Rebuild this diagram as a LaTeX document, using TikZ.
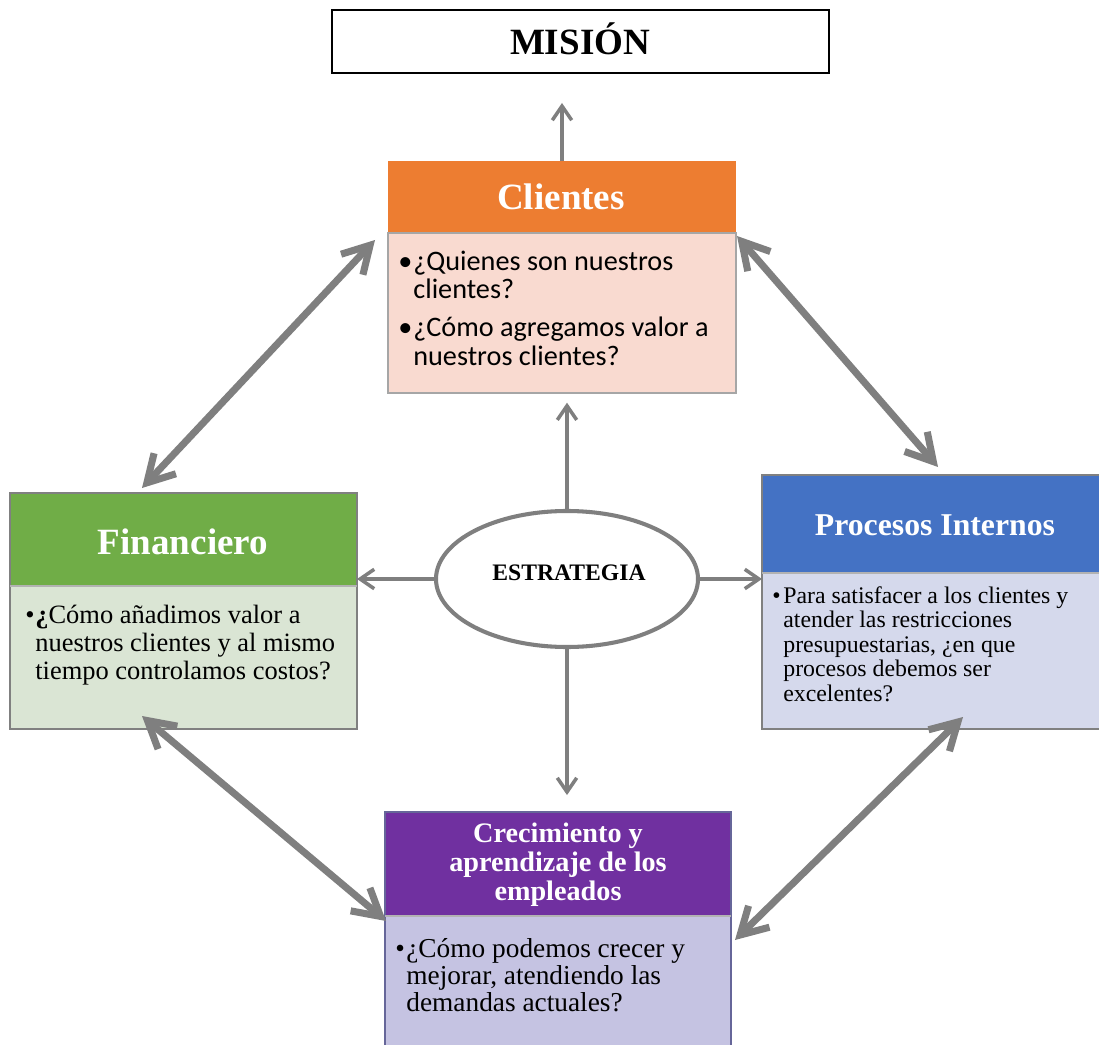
\documentclass[tikz,border=0pt]{standalone}
\usepackage{fontspec}
\setmainfont{Liberation Serif}
\newfontfamily\calibrifont{Carlito}
\usetikzlibrary{arrows.meta,shapes.geometric}

% one drawing unit
\newdimen\pxu
\pxu=0.5669pt

% colours
\definecolor{arrowgray}{HTML}{7F7F7F}
\definecolor{cliorange}{HTML}{ED7D31}
\definecolor{clibody}{HTML}{F9DAD0}
\definecolor{fingreen}{HTML}{70AD47}
\definecolor{finbody}{HTML}{DAE5D4}
\definecolor{problue}{HTML}{4472C4}
\definecolor{probody}{HTML}{D5D9EC}
\definecolor{crepurple}{HTML}{7030A0}
\definecolor{crebody}{HTML}{C5C3E2}

% bullet paragraph with hanging indent: #1 indent, #2 text
\newcommand{\bulpar}[2]{\par\hangindent=#1\hangafter=1\noindent\makebox[#1][l]{\textbullet}#2}

\begin{document}
\begin{tikzpicture}[x=\pxu, y=-\pxu,
  panel/.style={anchor=north west, inner sep=0pt, outer sep=0pt},
  title/.style={anchor=base, text=white, font=\bfseries\fontsize{21}{25}\selectfont},
  bodytext/.style={anchor=base west, inner sep=0pt},
  thinarrow/.style={draw=arrowgray, line width=2pt,
    -{Straight Barb[length=8pt,width=11pt]}},
  thickarrow/.style={draw=arrowgray, line width=4pt,
    {Straight Barb[length=15pt,width=17pt]}-{Straight Barb[length=15pt,width=17pt]}}
]
\useasboundingbox (0,0) rectangle (1099,1045);

% ---- Mision
\node[panel, draw=black, line width=1.2pt, minimum width=497*\pxu, minimum height=63*\pxu]
  (mis) at (332,10) {};
\node[anchor=base, font=\bfseries\fontsize{21}{25}\selectfont] (mist) at (580,55) {MISIÓN};

% ---- Clientes
\node[panel, fill=cliorange, minimum width=348*\pxu, minimum height=72*\pxu] (clh) at (388,161) {};
\node[panel, fill=clibody, draw=gray!70, line width=1.1pt, minimum width=348*\pxu, minimum height=160*\pxu]
  (clb) at (388,233) {};
\node[title] (clt) at (561,210) {Clientes};
\node[bodytext] (clq) at (398,270) {\parbox[t]{600\pxu}{\calibrifont\fontsize{16}{16.4}\selectfont
  \bulpar{15\pxu}{¿Quienes son nuestros\newline clientes?}\par\vspace{9\pxu}
  \bulpar{15\pxu}{¿Cómo agregamos valor a\newline nuestros clientes?}}};

% ---- Financiero
\node[panel, fill=fingreen, minimum width=347*\pxu, minimum height=93*\pxu] (finh) at (10,493) {};
\node[panel, fill=finbody, minimum width=347*\pxu, minimum height=143*\pxu] (finb) at (10,586) {};
\draw[gray, line width=1pt] (finh.north west) rectangle (finb.south east);
\draw[gray!60, line width=0.6pt] (finh.south west) -- (finh.south east);
\node[title] (fint) at (183,554) {Financiero};
\node[bodytext] (finq) at (25,623) {\parbox[t]{600\pxu}{\fontsize{15}{15.9}\selectfont
  \bulpar{10\pxu}{\textbf{¿}Cómo añadimos valor a\newline nuestros clientes y al mismo\newline tiempo controlamos costos?}}};

% ---- Procesos Internos
\node[panel, fill=problue, minimum width=340*\pxu, minimum height=98*\pxu] (prh) at (762,475) {};
\node[panel, fill=probody, minimum width=340*\pxu, minimum height=156*\pxu] (prb) at (762,573) {};
\draw[gray, line width=1pt] (prh.north west) rectangle (prb.south east);
\draw[gray!60, line width=0.6pt] (prh.south west) -- (prh.south east);
\node[title, font=\bfseries\fontsize{18}{22}\selectfont] (prt) at (935,535) {Procesos Internos};
\node[bodytext] (prq) at (772,603) {\parbox[t]{600\pxu}{\fontsize{13.5}{13.9}\selectfont
  \bulpar{11\pxu}{Para satisfacer a los clientes y\newline atender las restricciones\newline presupuestarias, ¿en que\newline procesos debemos ser\newline excelentes?}}};

% ---- Crecimiento y aprendizaje
\node[panel, fill=crepurple, minimum width=346*\pxu, minimum height=104*\pxu] (crh) at (385,812) {};
\node[panel, fill=crebody, minimum width=346*\pxu, minimum height=140*\pxu] (crb) at (385,916) {};
\draw[gray!80!blue, line width=1pt] (crh.north west) rectangle (crb.south east);
\draw[gray!60, line width=0.6pt] (crh.south west) -- (crh.south east);
\node[title, align=center, font=\bfseries\fontsize{16}{16.4}\selectfont] (crt) at (558,900)
  {Crecimiento y\\aprendizaje de los\\empleados};
\node[bodytext] (crq) at (395,957) {\parbox[t]{600\pxu}{\fontsize{15.5}{15.4}\selectfont
  \bulpar{11\pxu}{¿Cómo podemos crecer y\newline mejorar, atendiendo las\newline demandas actuales?}}};

% ---- Estrategia
\node[ellipse, draw=arrowgray, fill=white, line width=2.3pt, minimum width=262*\pxu,
  minimum height=136*\pxu, inner sep=0pt] (estr) at (567,579) {};
\node[anchor=base, font=\bfseries\fontsize{13.4}{16}\selectfont] (estt) at (569,580) {ESTRATEGIA};

% ---- thin arrows
\draw[thinarrow, shorten >=17pt] (clh.north) -- (clh.north |- mis.south);
\draw[thinarrow, shorten >=5.5pt] (estr.north) -- (estr.north |- clb.south);
\draw[thinarrow] (estr.west) -- (estr.west -| finh.east);
\draw[thinarrow] (estr.east) -- (estr.east -| prb.west);
\draw[thinarrow, shorten >=9.6pt] (estr.south) -- (estr.south |- crh.north);

% ---- thick double arrows between the perspectives
\coordinate (cf1) at (375,240);
\coordinate (cf2) at (142,488);
\coordinate (cp1) at (737,236);
\coordinate (cp2) at (938,467);
\coordinate (fc1) at (142,716);
\coordinate (fc2) at (386,921);
\coordinate (pc1) at (963,717);
\coordinate (pc2) at (735,940);
\draw[thickarrow] (cf1) -- (cf2);
\draw[thickarrow] (cp1) -- (cp2);
\draw[thickarrow] (fc1) -- (fc2);
\draw[thickarrow] (pc1) -- (pc2);
\end{tikzpicture}
\end{document}
